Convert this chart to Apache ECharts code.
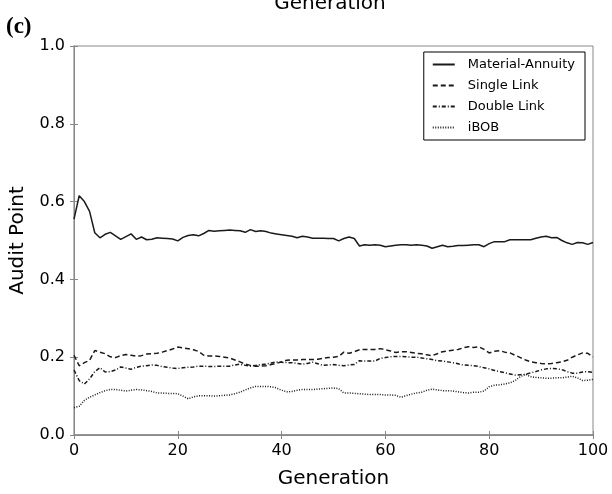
<!DOCTYPE html>
<html>
<head>
    <meta charset="utf-8">
    <title>Audit Point</title>
    <script src="https://cdn.jsdelivr.net/npm/echarts@6/dist/echarts.min.js"></script>
</head>
<body style="margin:0">
    <div id="main" style="width: 612px;height:494px;"></div>
    <script type="text/javascript">
        var myChart = echarts.init(document.getElementById('main'));

        // generation 0..100
        var generations = [];
        for (var g = 0; g <= 100; g++) generations.push(g);

        var materialAnnuity = [
            0.555, 0.615, 0.600, 0.575, 0.520, 0.507, 0.516, 0.521, 0.512, 0.503,
            0.510, 0.517, 0.503, 0.509, 0.502, 0.503, 0.507, 0.506, 0.505, 0.504,
            0.499, 0.508, 0.513, 0.515, 0.512, 0.518, 0.526, 0.524, 0.525, 0.526,
            0.527, 0.526, 0.525, 0.521, 0.528, 0.523, 0.525, 0.523, 0.519, 0.517,
            0.515, 0.513, 0.511, 0.507, 0.511, 0.509, 0.506, 0.506, 0.506, 0.505,
            0.505, 0.499, 0.505, 0.509, 0.505, 0.486, 0.489, 0.488, 0.489, 0.488,
            0.484, 0.486, 0.488, 0.489, 0.489, 0.488, 0.489, 0.488, 0.486, 0.480,
            0.484, 0.488, 0.484, 0.485, 0.487, 0.487, 0.488, 0.489, 0.489, 0.484,
            0.492, 0.497, 0.497, 0.497, 0.502, 0.502, 0.502, 0.502, 0.502, 0.506,
            0.509, 0.511, 0.507, 0.508, 0.500, 0.494, 0.490, 0.495, 0.494, 0.490,
            0.495
        ];
        var singleLink = [
            0.205, 0.178, 0.186, 0.192, 0.217, 0.213, 0.209, 0.201, 0.199, 0.204,
            0.207, 0.205, 0.203, 0.204, 0.208, 0.209, 0.210, 0.213, 0.217, 0.221,
            0.226, 0.224, 0.222, 0.219, 0.215, 0.205, 0.203, 0.203, 0.202, 0.200,
            0.198, 0.193, 0.188, 0.182, 0.179, 0.177, 0.177, 0.178, 0.181, 0.184,
            0.188, 0.192, 0.193, 0.193, 0.194, 0.194, 0.194, 0.195, 0.197, 0.199,
            0.200, 0.202, 0.213, 0.210, 0.214, 0.219, 0.220, 0.220, 0.220, 0.222,
            0.219, 0.216, 0.212, 0.214, 0.214, 0.212, 0.210, 0.209, 0.206, 0.204,
            0.209, 0.214, 0.216, 0.218, 0.220, 0.224, 0.227, 0.225, 0.227, 0.220,
            0.211, 0.215, 0.217, 0.213, 0.211, 0.205, 0.199, 0.193, 0.188, 0.186,
            0.184, 0.183, 0.184, 0.186, 0.188, 0.192, 0.200, 0.206, 0.211, 0.210,
            0.201
        ];
        var doubleLink = [
            0.167, 0.140, 0.131, 0.144, 0.163, 0.173, 0.162, 0.163, 0.167, 0.175,
            0.172, 0.169, 0.174, 0.177, 0.178, 0.180, 0.179, 0.176, 0.174, 0.172,
            0.171, 0.173, 0.174, 0.175, 0.177, 0.177, 0.176, 0.176, 0.177, 0.177,
            0.177, 0.180, 0.182, 0.179, 0.177, 0.179, 0.181, 0.182, 0.185, 0.188,
            0.187, 0.186, 0.186, 0.184, 0.182, 0.184, 0.187, 0.183, 0.179, 0.180,
            0.181, 0.179, 0.178, 0.180, 0.181, 0.191, 0.190, 0.190, 0.190, 0.197,
            0.199, 0.201, 0.202, 0.202, 0.201, 0.200, 0.200, 0.198, 0.196, 0.194,
            0.191, 0.190, 0.188, 0.186, 0.183, 0.180, 0.179, 0.178, 0.176, 0.173,
            0.170, 0.166, 0.163, 0.160, 0.157, 0.154, 0.155, 0.156, 0.160, 0.163,
            0.167, 0.170, 0.171, 0.170, 0.168, 0.163, 0.159, 0.159, 0.162, 0.163,
            0.161
        ];
        var iBOB = [
            0.070, 0.074, 0.089, 0.097, 0.103, 0.109, 0.114, 0.117, 0.117, 0.115,
            0.113, 0.115, 0.117, 0.116, 0.114, 0.112, 0.108, 0.108, 0.107, 0.107,
            0.106, 0.100, 0.093, 0.098, 0.101, 0.101, 0.101, 0.100, 0.101, 0.102,
            0.103, 0.106, 0.110, 0.116, 0.121, 0.125, 0.125, 0.125, 0.124, 0.121,
            0.115, 0.111, 0.112, 0.115, 0.117, 0.117, 0.117, 0.118, 0.119, 0.120,
            0.121, 0.119, 0.108, 0.108, 0.107, 0.106, 0.105, 0.104, 0.104, 0.104,
            0.103, 0.103, 0.102, 0.097, 0.101, 0.105, 0.108, 0.110, 0.115, 0.118,
            0.116, 0.114, 0.114, 0.113, 0.111, 0.109, 0.108, 0.110, 0.110, 0.113,
            0.124, 0.128, 0.129, 0.131, 0.134, 0.140, 0.150, 0.156, 0.150, 0.148,
            0.147, 0.146, 0.146, 0.147, 0.147, 0.149, 0.151, 0.147, 0.140, 0.141,
            0.143
        ];

        function pairs(vals) {
            return vals.map(function (v, i) { return [generations[i], v]; });
        }

        var font = 'DejaVu Sans';
        var spine = '#888';

        function mkSeries(name, vals, type) {
            return {
                name: name,
                type: 'line',
                symbol: 'none',
                xAxisIndex: 0,
                yAxisIndex: 0,
                data: pairs(vals),
                lineStyle: { color: '#1a1a1a', width: 1.5, type: type },
                itemStyle: { color: '#1a1a1a' },
                emphasis: { disabled: true }
            };
        }

        var option = {
            animation: false,
            backgroundColor: '#fff',
            textStyle: { fontFamily: font },
            grid: { left: 67, right: 19, top: 46, bottom: 51, show: true, borderColor: spine, borderWidth: 1 },
            graphic: [
                {
                    type: 'text', left: 6, top: 16,
                    style: { text: '(c)', font: 'bold 23px "Liberation Serif"', fill: '#000' }
                },
                {
                    type: 'text', x: 330, y: -6,
                    style: { text: 'Generation', font: '20px "DejaVu Sans"', fill: '#000', align: 'center' }
                }
            ],
            legend: {
                right: 27, top: 52,
                orient: 'vertical',
                itemWidth: 22, itemHeight: 10, itemGap: 8,
                padding: [6, 10, 6, 8],
                backgroundColor: '#fff',
                borderColor: '#000', borderWidth: 1,
                itemStyle: { opacity: 0 },
                textStyle: { fontFamily: font, fontSize: 13, color: '#000', padding: [0, 0, 0, 8] },
                data: ['Material-Annuity', 'Single Link', 'Double Link', 'iBOB']
            },
            xAxis: [{
                type: 'value', min: 0, max: 100, interval: 20,
                name: 'Generation', nameLocation: 'middle', nameGap: 34,
                nameTextStyle: { fontFamily: font, fontSize: 20, color: '#000' },
                axisLine: { show: true, lineStyle: { color: spine, width: 1.5 } },
                axisTick: { inside: true, length: 4, lineStyle: { color: spine } },
                axisLabel: { fontFamily: font, fontSize: 16, color: '#000', margin: 8 },
                splitLine: { show: false }
            }, {
                type: 'value', min: 0, max: 100, interval: 20, position: 'top',
                axisLine: { show: true, lineStyle: { color: spine } },
                axisTick: { inside: true, length: 4, lineStyle: { color: spine } },
                axisLabel: { show: false },
                splitLine: { show: false }
            }],
            yAxis: [{
                type: 'value', min: 0, max: 1, interval: 0.2,
                name: 'Audit Point', nameLocation: 'middle', nameGap: 46,
                nameTextStyle: { fontFamily: font, fontSize: 20, color: '#000' },
                axisLine: { show: true, lineStyle: { color: '#bbb', width: 2 } },
                axisTick: { inside: true, length: 4, lineStyle: { color: spine } },
                axisLabel: { fontFamily: font, fontSize: 16, color: '#000', margin: 9,
                    formatter: function (v) { return v.toFixed(1); } },
                splitLine: { show: false }
            }, {
                type: 'value', min: 0, max: 1, interval: 0.2, position: 'right',
                axisLine: { show: true, lineStyle: { color: spine } },
                axisTick: { inside: true, length: 4, lineStyle: { color: spine } },
                axisLabel: { show: false },
                splitLine: { show: false }
            }],
            series: [
                mkSeries('Material-Annuity', materialAnnuity, 'solid'),
                mkSeries('Single Link', singleLink, [5, 3]),
                mkSeries('Double Link', doubleLink, [4, 2, 1, 2]),
                mkSeries('iBOB', iBOB, [1, 1.5])
            ]
        };

        myChart.setOption(option);
    </script>
</body>
</html>
